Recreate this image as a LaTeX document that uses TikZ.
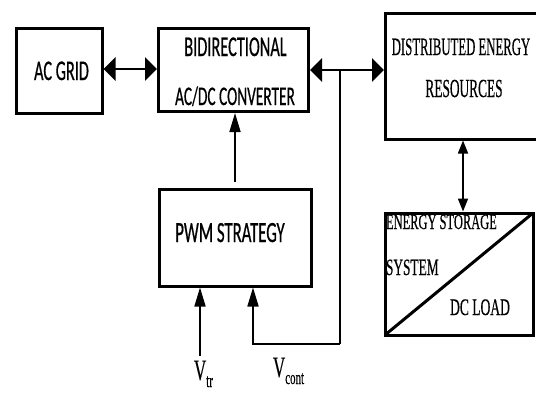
\documentclass[tikz,border=0pt]{standalone}
\usepackage{fontspec}
\usepackage{graphicx}
\usetikzlibrary{arrows.meta}
\newfontfamily\carlito[FakeBold=0.8]{Carlito}
\newfontfamily\libserif[FakeBold=0.5]{Liberation Serif}
\newcommand{\myvsans}[1]{\scalebox{1}[1.75]{#1}}
\newcommand{\myvserif}[1]{\scalebox{1}[1.75]{#1}}
\newcommand{\myvtall}[1]{\scalebox{1}[1.95]{#1}}
\begin{document}
\begin{tikzpicture}[x=1bp,y=-1bp,
  box/.style={draw, line width=3bp, inner sep=0pt, outer sep=0pt, anchor=north west},
  lbl/.style={inner sep=0pt, outer sep=0pt, anchor=base},
  hconn/.style={line width=2.6bp, {Triangle[length=12bp,width=23bp]}-{Triangle[length=12bp,width=23bp]}, shorten <=1.5bp, shorten >=1.5bp},
  vconn/.style={line width=1.7bp, -{Triangle[length=19bp,width=11bp]}, shorten >=1.5bp},
  vdconn/.style={line width=1.7bp, {Triangle[length=13bp,width=10bp]}-{Triangle[length=13bp,width=10bp]}, shorten <=1.5bp, shorten >=1.5bp},
  plain/.style={line width=1.7bp}]
\useasboundingbox (0,0) rectangle (536,392);
\clip (0,0) rectangle (536,392);
\fill[white] (0,0) rectangle (536,392);
% boxes
\node[box, minimum width=86bp, minimum height=85bp] (grid) at (16,28) {};
\node[box, minimum width=150bp, minimum height=83bp] (conv) at (158.5,28.5) {};
\node[box, minimum width=160bp, minimum height=126bp] (der) at (385.5,13) {};
\node[box, minimum width=152bp, minimum height=97bp] (pwm) at (159,189) {};
\node[box, minimum width=148bp, minimum height=122bp] (ess) at (385,213) {};
\draw[line width=3bp] (ess.south west) -- (ess.north east);
% texts
\node[lbl] (tgrid) at (61.5,80) {\carlito\fontsize{16.3}{19}\selectfont\myvsans{AC GRID}};
\node[lbl] (tbid) at (235.5,56) {\carlito\fontsize{16.4}{19}\selectfont\myvsans{BIDIRECTIONAL}};
\node[lbl] (tacdc) at (235,105) {\carlito\fontsize{15.4}{18}\selectfont\myvsans{AC/DC CONVERTER}};
\node[lbl] (tpwm) at (230,242) {\carlito\fontsize{16.8}{19}\selectfont\myvsans{PWM STRATEGY}};
\node[lbl] (tder1) at (461,55) {\libserif\fontsize{12.8}{15}\selectfont\myvtall{DISTRIBUTED ENERGY}};
\node[lbl] (tder2) at (464,97) {\libserif\fontsize{13.4}{15}\selectfont\myvtall{RESOURCES}};
\node[lbl, anchor=base west] (tess1) at (386,229) {\libserif\fontsize{12.5}{15}\selectfont\myvserif{ENERGY STORAGE}};
\node[lbl, anchor=base west] (tess2) at (386,275) {\libserif\fontsize{13.4}{15}\selectfont\myvserif{SYSTEM}};
\node[lbl] (tdc) at (480,315) {\libserif\fontsize{13.6}{15}\selectfont\myvserif{DC LOAD}};
\node[lbl, anchor=base west] (vtr) at (194,380) {\libserif\myvserif{\fontsize{17}{20}\selectfont V\raisebox{-4bp}{\fontsize{11}{13}\selectfont tr}}};
\node[lbl, anchor=base west] (vcont) at (273,377) {\libserif\myvserif{\fontsize{17}{20}\selectfont V\raisebox{-4bp}{\fontsize{11}{13}\selectfont cont}}};
% connectors
\coordinate (j) at (340,70);
\coordinate (fb) at (340,344);
\coordinate (vtrstart) at (200,356);
\draw[hconn] (grid.east |- 0,69) -- (conv.west |- 0,69);
\draw[hconn] (conv.east |- j) -- (der.west |- j);
\draw[plain] (j) -- (fb);
\draw[vconn] (fb) -| ([xshift=18bp]pwm.south);
\draw[vconn] (vtrstart) -- (vtrstart |- pwm.south);
\draw[vconn] ([yshift=7bp]pwm.north) -- (conv.south -| pwm.north);
\draw[vdconn] (der.south -| 463,0) -- (ess.north -| 463,0);
\end{tikzpicture}
\end{document}
